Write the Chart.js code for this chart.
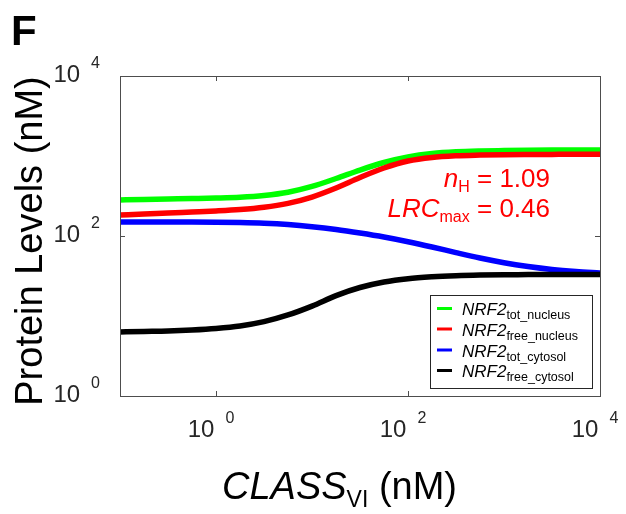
<!DOCTYPE html>
<html>
<head>
<meta charset="utf-8">
<script src="https://cdn.jsdelivr.net/npm/chart.js@4.4.1/dist/chart.umd.min.js"></script>
<style>
  html, body { margin: 0; padding: 0; background: #fff; }
</style>
</head>
<body>
<canvas id="fig" width="626" height="514"></canvas>
<script>
// CLASS_VI concentration (nM), quarter decades, and the four NRF2 pools (nM)
var classVI = [0.1, 0.178, 0.316, 0.562, 1, 1.78, 3.16, 5.62, 10, 17.8, 31.6,
               56.2, 100, 178, 316, 562, 1000, 1780, 3160, 5620, 10000];
var totNucleus = [282, 286, 290, 294, 298.5, 305.5, 321, 352, 416, 523, 668,
                  829, 972, 1072, 1128, 1155, 1168, 1178, 1185, 1188, 1188];
var freeNucleus = [183, 188, 194, 199.5, 205.4, 213.8, 228.5, 256, 307, 398, 539,
                   708, 866, 960, 1006, 1026, 1038, 1044, 1047, 1050, 1050];
var totCytosol = [149.6, 149.6, 149.6, 149.6, 148.8, 147.1, 144.1, 138.8, 130.7, 120.6, 109,
                  97.2, 84.9, 72.9, 62.0, 53.1, 46.4, 41.6, 38.2, 36.0, 34.5];
var freeCytosol = [6.31, 6.4, 6.49, 6.68, 6.98, 7.5, 8.49, 10.3, 13.3, 18.0, 22.7,
                   26.6, 29.3, 30.9, 31.9, 32.5, 32.8, 32.9, 33.0, 33.0, 33.0];

var seriesNames = ["tot_nucleus", "free_nucleus", "tot_cytosol", "free_cytosol"];
var seriesColors = ["#00ff00", "#ff0000", "#0000ff", "#000000"];

var xTicks = [1, 100, 10000];
var xTickExp = ["0", "2", "4"];
var yTicks = [1, 100, 10000];
var yTickExp = ["0", "2", "4"];

var FONT = "'Liberation Sans', Arial, Helvetica, sans-serif";

function pts(ys) {
    return classVI.map(function (x, i) { return { x: x, y: ys[i] }; });
}

// draw a run of text pieces (for sub/superscripts); parts = {t, f, dy, gap}
function richText(ctx, parts, x, y, align) {
    var w = 0;
    parts.forEach(function (p) {
        ctx.font = p.f;
        w += ctx.measureText(p.t).width + (p.gap || 0);
    });
    var cx = align === "right" ? x - w : align === "center" ? x - w / 2 : x;
    ctx.textAlign = "left";
    ctx.textBaseline = "alphabetic";
    parts.forEach(function (p) {
        ctx.font = p.f;
        cx += (p.gap || 0);
        ctx.fillText(p.t, cx, y + (p.dy || 0));
        cx += ctx.measureText(p.t).width;
    });
}

var decorations = {
    id: "decorations",
    afterDraw: function (chart) {
        var ctx = chart.ctx;
        var a = chart.chartArea;
        var xs = chart.scales.x, ys = chart.scales.y;
        ctx.save();

        // box + inward ticks
        ctx.strokeStyle = "#4d4d4d";
        ctx.lineWidth = 1;
        ctx.strokeRect(Math.round(a.left) + 0.5, Math.round(a.top) + 0.5,
            Math.round(a.right - a.left), Math.round(a.bottom - a.top));
        ctx.beginPath();
        xTicks.forEach(function (v) {
            var px = Math.round(xs.getPixelForValue(v)) + 0.5;
            ctx.moveTo(px, a.bottom); ctx.lineTo(px, a.bottom - 5);
            ctx.moveTo(px, a.top); ctx.lineTo(px, a.top + 5);
        });
        yTicks.forEach(function (v) {
            var py = Math.round(ys.getPixelForValue(v)) + 0.5;
            ctx.moveTo(a.left, py); ctx.lineTo(a.left + 5, py);
            ctx.moveTo(a.right, py); ctx.lineTo(a.right - 5, py);
        });
        ctx.stroke();

        // tick labels
        ctx.fillStyle = "#262626";
        xTicks.forEach(function (v, i) {
            var px = xs.getPixelForValue(v);
            richText(ctx, [
                { t: "10", f: "24px " + FONT },
                { t: xTickExp[i], f: "16px " + FONT, dy: -14, gap: 11 }
            ], px - 5, 437, "center");
        });
        yTicks.forEach(function (v, i) {
            var py = ys.getPixelForValue(v);
            richText(ctx, [
                { t: "10", f: "24px " + FONT },
                { t: yTickExp[i], f: "16px " + FONT, dy: -14, gap: 11 }
            ], 100, py + 6, "right");
        });

        // axis titles
        ctx.fillStyle = "#000";
        richText(ctx, [
            { t: "CLASS", f: "italic 38px " + FONT },
            { t: "VI", f: "23px " + FONT, dy: 8 },
            { t: " (nM)", f: "38px " + FONT }
        ], 222, 499, "left");

        ctx.save();
        ctx.translate(42, 241);
        ctx.rotate(-Math.PI / 2);
        richText(ctx, [{ t: "Protein Levels (nM)", f: "38px " + FONT }], 0, 0, "center");
        ctx.restore();

        // panel letter
        richText(ctx, [{ t: "F", f: "bold 42px " + FONT }], 11, 45, "left");

        // annotation
        ctx.fillStyle = "#ff0000";
        richText(ctx, [
            { t: "n", f: "italic 26px " + FONT },
            { t: "H", f: "16px " + FONT, dy: 5 },
            { t: " = 1.09", f: "26px " + FONT }
        ], 550, 187, "right");
        richText(ctx, [
            { t: "LRC", f: "italic 26px " + FONT },
            { t: "max", f: "16px " + FONT, dy: 5 },
            { t: " = 0.46", f: "26px " + FONT }
        ], 550, 217, "right");

        // legend
        var lx = 430, ly = 295, lw = 162, lh = 93;
        ctx.fillStyle = "#fff";
        ctx.fillRect(lx, ly, lw, lh);
        ctx.strokeStyle = "#262626";
        ctx.lineWidth = 1;
        ctx.strokeRect(lx + 0.5, ly + 0.5, lw, lh);
        var rows = [315, 335.5, 356.5, 377];
        seriesNames.forEach(function (name, i) {
            ctx.strokeStyle = seriesColors[i];
            ctx.lineWidth = 3;
            ctx.beginPath();
            ctx.moveTo(437, rows[i] - 6.5);
            ctx.lineTo(452, rows[i] - 6.5);
            ctx.stroke();
            ctx.fillStyle = "#000";
            richText(ctx, [
                { t: "NRF2", f: "italic 17px " + FONT },
                { t: name, f: "12.5px " + FONT, dy: 4 }
            ], 462, rows[i], "left");
        });

        ctx.restore();
    }
};

var ctx = document.getElementById("fig").getContext("2d");
var myChart = new Chart(ctx, {
    type: "line",
    data: {
        datasets: [
            { label: "tot_nucleus", data: pts(totNucleus), borderColor: seriesColors[0], order: 4 },
            { label: "free_nucleus", data: pts(freeNucleus), borderColor: seriesColors[1], order: 3 },
            { label: "tot_cytosol", data: pts(totCytosol), borderColor: seriesColors[2], order: 2 },
            { label: "free_cytosol", data: pts(freeCytosol), borderColor: seriesColors[3], order: 1 }
        ]
    },
    options: {
        responsive: false,
        animation: false,
        layout: { padding: { left: 120, right: 26, top: 76, bottom: 118 } },
        elements: {
            point: { radius: 0 },
            line: { borderWidth: 5.5, cubicInterpolationMode: "monotone", borderCapStyle: "butt" }
        },
        plugins: { legend: { display: false }, tooltip: { enabled: false } },
        scales: {
            x: { type: "logarithmic", min: 0.1, max: 10000, display: false },
            y: { type: "logarithmic", min: 1, max: 10000, display: false }
        }
    },
    plugins: [decorations]
});
</script>
</body>
</html>
